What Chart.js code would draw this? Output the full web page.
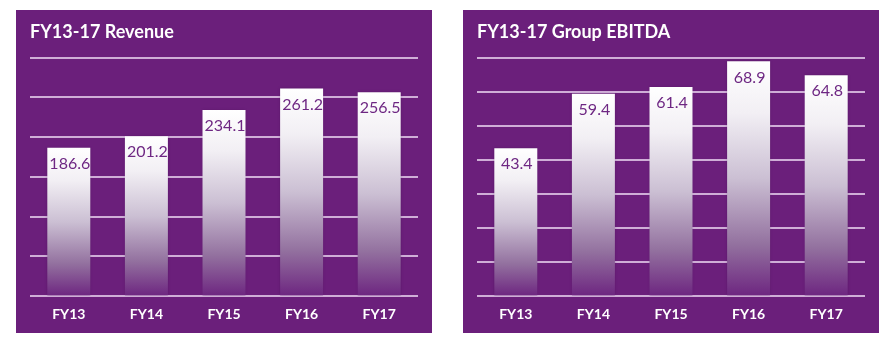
<!DOCTYPE html>
<html>
<head>
<meta charset="utf-8">
<script src="https://cdn.jsdelivr.net/npm/chart.js@4/dist/chart.umd.min.js"></script>
<style>
  html, body { margin: 0; padding: 0; background: #ffffff; }
  body { width: 884px; height: 340px; position: relative; overflow: hidden; }
  .panel { position: absolute; top: 10px; width: 416px; height: 323px; background: #6b1f7b; }
  #p1 { left: 16px; }
  #p2 { left: 463px; }
  canvas { display: block; }
</style>
</head>
<body>
<div class="panel" id="p1"><canvas id="c1" width="416" height="323"></canvas></div>
<div class="panel" id="p2"><canvas id="c2" width="416" height="323"></canvas></div>
<script>
// ---- data ----
const categories = ['FY13', 'FY14', 'FY15', 'FY16', 'FY17'];
const revenue = [186.6, 201.2, 234.1, 261.2, 256.5];
const ebitda = [43.4, 59.4, 61.4, 68.9, 64.8];
const revenueTitle = 'FY13-17 Revenue';
const ebitdaTitle = 'FY13-17 Group EBITDA';
const revenueAxis = [0, 300, 50];   // min, max, step
const ebitdaAxis = [0, 70, 10];

const GRID = 'rgba(225,200,232,0.85)';

function barGradient(ctx) {
  const chart = ctx.chart;
  if (!chart.chartArea || ctx.parsed == null) return '#ffffff';
  const y = chart.scales.y;
  const top = y.getPixelForValue(ctx.parsed.y);
  const bottom = y.getPixelForValue(0);
  const g = chart.ctx.createLinearGradient(0, top, 0, bottom);
  g.addColorStop(0, '#ffffff');
  g.addColorStop(0.22, '#f2eff4');
  g.addColorStop(0.5, '#cbbfd3');
  g.addColorStop(0.78, '#93719f');
  g.addColorStop(1, '#6d2580');
  return g;
}

const barShadow = {
  id: 'barShadow',
  beforeDatasetsDraw(chart) {
    const c = chart.ctx;
    c.save();
    c.shadowColor = 'rgba(50,0,60,0.35)';
    c.shadowBlur = 3;
    c.shadowOffsetX = 0;
    c.shadowOffsetY = 0;
  },
  afterDatasetsDraw(chart) {
    chart.ctx.restore();
  }
};

const valueLabels = {
  id: 'valueLabels',
  afterDatasetsDraw(chart) {
    const c = chart.ctx;
    const meta = chart.getDatasetMeta(0);
    const data = chart.data.datasets[0].data;
    c.save();
    c.font = '400 16px Lato, "Open Sans", sans-serif';
    c.fillStyle = '#6e2783';
    c.textAlign = 'center';
    c.textBaseline = 'middle';
    meta.data.forEach((bar, i) => {
      c.fillText(data[i].toFixed(1), bar.x + 1, bar.y + 16);
    });
    c.restore();
  }
};

function makeChart(id, title, values, axis) {
  return new Chart(document.getElementById(id), {
    type: 'bar',
    data: {
      labels: categories,
      datasets: [{
        data: values,
        backgroundColor: barGradient,
        borderWidth: 0,
        categoryPercentage: 1.0,
        barPercentage: 0.554
      }]
    },
    options: {
      responsive: false,
      animation: false,
      events: [],
      layout: { padding: { left: 14, right: 14, top: 0, bottom: 0 } },
      plugins: {
        legend: { display: false },
        tooltip: { enabled: false },
        title: {
          display: true,
          text: title,
          align: 'start',
          color: '#ffffff',
          font: { family: 'Lato, "Open Sans", sans-serif', size: 18, weight: 'bold' },
          padding: { top: 11, bottom: 15 }
        }
      },
      scales: {
        x: {
          grid: { display: false, drawTicks: false },
          border: { display: false },
          ticks: {
            color: '#ffffff',
            font: { family: 'Lato, "Open Sans", sans-serif', size: 14, weight: 'bold' },
            padding: 10
          }
        },
        y: {
          min: axis[0],
          max: axis[1],
          grid: { color: GRID, lineWidth: 2, drawTicks: false },
          border: { display: false },
          ticks: { display: false, stepSize: axis[2] }
        }
      }
    },
    plugins: [barShadow, valueLabels]
  });
}

makeChart('c1', revenueTitle, revenue, revenueAxis);
makeChart('c2', ebitdaTitle, ebitda, ebitdaAxis);
</script>
</body>
</html>
